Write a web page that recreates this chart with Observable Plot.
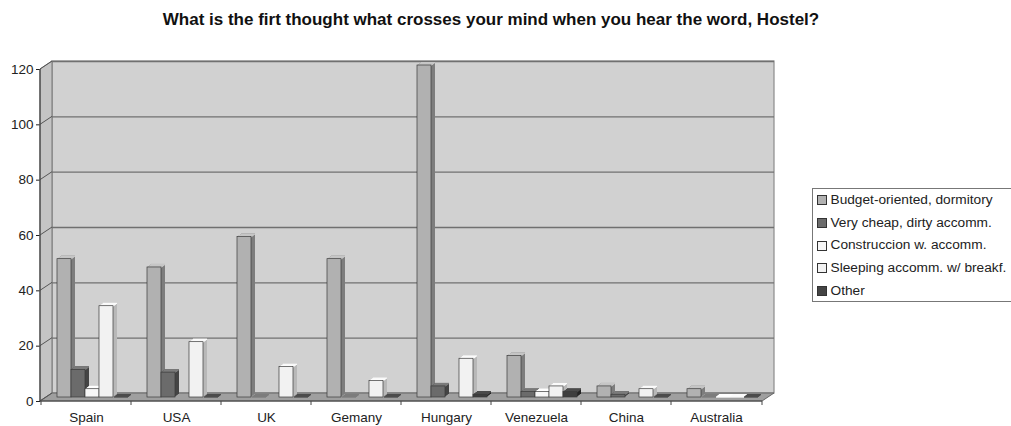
<!DOCTYPE html>
<html>
<head>
<meta charset="utf-8">
<script src="https://cdn.jsdelivr.net/npm/d3@7"></script>
<script src="https://cdn.jsdelivr.net/npm/@observablehq/plot@0.6"></script>
<style>
  html, body { margin: 0; padding: 0; background: #fff; }
  #wrap { position: relative; width: 1011px; height: 426px; overflow: hidden; font-family: "Liberation Sans", Arial, sans-serif; }
  #title { position: absolute; left: 0; top: 10px; width: 982px; text-align: center; font-weight: bold; font-size: 17px; line-height: 20px; color: #111; }
  .layer { position: absolute; left: 0; top: 0; }
  #legend { position: absolute; left: 812px; top: 188px; width: 210px; height: 114px; box-sizing: border-box; border: 1.5px solid #777; background: #fff; padding: 0 0 0 3.5px; font-size: 13.7px; color: #222; }
  #legend .row { height: 22.7px; line-height: 22.7px; white-space: nowrap; display: flex; align-items: center; }
  #legend .sw { width: 8px; height: 8px; border: 1px solid #333; margin-right: 4px; flex: none; }
</style>
</head>
<body>
<div id="wrap">
  <div id="title">What is the firt thought what crosses your mind when you hear the word, Hostel?</div>
  <div id="back" class="layer"></div>
  <div id="front" class="layer"></div>
  <div id="legend"></div>
</div>
<script>
// ---------- data ----------
const countries = ["Spain", "USA", "UK", "Gemany", "Hungary", "Venezuela", "China", "Australia"];
const series = ["Budget-oriented, dormitory", "Very cheap, dirty accomm.", "Construccion w. accomm.", "Sleeping accomm. w/ breakf.", "Other"];
const budget       = [50, 47, 58, 50, 120, 15, 4, 3];
const veryCheap    = [10,  9,  0,  0,   4,  2, 1, 0];
const construccion = [ 3, null, null, null, null, 2, null, 0];
const sleeping     = [33, 20, 11,  6,  14,  4, 3, 0];
const other        = [ 0,  0,  0,  0,   1,  2, 0, 0];
const yTicks = [0, 20, 40, 60, 80, 100, 120];

// ---------- styles ----------
const frontColor = ["#b1b1b1", "#6b6b6b", "#f7f7f7", "#f2f2f2", "#3e3e3e"];
const sideColor  = ["#7d7d7d", "#444444", "#bdbdbd", "#b8b8b8", "#242424"];
const topColor   = ["#c6c6c6", "#7c7c7c", "#ffffff", "#fbfbfb", "#4c4c4c"];
const legendColor = ["#b1b1b1", "#6b6b6b", "#f7f7f7", "#f2f2f2", "#444444"];

const valuesBySeries = [budget, veryCheap, construccion, sleeping, other];
const rows = [];
countries.forEach((c, i) => {
  series.forEach((s, j) => {
    const v = valuesBySeries[j][i];
    if (v != null) rows.push({country: c, series: s, value: v});
  });
});

const W = 1011, H = 426;
const margins = {marginTop: 69, marginBottom: 25, marginLeft: 40, marginRight: 249};
const wallDx = 12, wallDy = -8;       // back wall offset (depth)
const barDx = 6, barDy = -4;          // bars sit mid-depth
const depthSteps = [4, 3, 2, 1];
const depthK = 0.75;

// ---------- background: walls, floor, axes ----------
function walls(index, scales, values, dims) {
  const L = dims.marginLeft, R = dims.width - dims.marginRight;
  const y = scales.y;
  const y0 = y(0), yT = y(120);
  const g = d3.create("svg:g");
  g.append("rect")
    .attr("x", L + wallDx).attr("y", yT + wallDy)
    .attr("width", R - L).attr("height", y0 - yT)
    .attr("fill", "#d1d1d1").attr("stroke", "#8a8a8a").attr("stroke-width", 1.2);
  g.append("path")
    .attr("d", `M${L},${y0}L${L},${yT}L${L + wallDx},${yT + wallDy}L${L + wallDx},${y0 + wallDy}Z`)
    .attr("fill", "#c4c4c4").attr("stroke", "#777").attr("stroke-width", 1);
  g.append("path")
    .attr("d", `M${L},${y0}L${R},${y0}L${R + wallDx},${y0 + wallDy}L${L + wallDx},${y0 + wallDy}Z`)
    .attr("fill", "#9f9f9f").attr("stroke", "#666").attr("stroke-width", 1);
  for (const t of yTicks) {
    g.append("line")
      .attr("x1", L).attr("y1", y(t)).attr("x2", L + wallDx).attr("y2", y(t) + wallDy)
      .attr("stroke", "#555").attr("stroke-width", 1);
  }
  // category boundary ticks
  const xs = countries.map(c => scales.x(c)).concat([R]);
  for (const xv of xs) {
    g.append("line").attr("x1", xv).attr("x2", xv).attr("y1", y0).attr("y2", y0 + 4)
      .attr("stroke", "#444").attr("stroke-width", 1);
  }
  g.append("line").attr("x1", L).attr("x2", R).attr("y1", y0).attr("y2", y0).attr("stroke", "#444").attr("stroke-width", 1.2);
  g.append("line").attr("x1", L).attr("x2", L).attr("y1", y0).attr("y2", yT).attr("stroke", "#444").attr("stroke-width", 1.2);
  return g.node();
}

const backPlot = Plot.plot({
  width: W, height: H, ...margins,
  style: {background: "transparent", fontSize: "13.5px", fontFamily: "'Liberation Sans', Arial, sans-serif", color: "#222"},
  x: {type: "band", domain: countries, padding: 0, tickSize: 0, tickPadding: 11, label: null},
  y: {domain: [0, 120], ticks: yTicks, tickSize: 4, tickPadding: 3, label: null},
  marks: [
    walls,
    Plot.ruleY(yTicks.slice(1), {dx: wallDx, dy: wallDy, stroke: "#707070", strokeWidth: 1.4})
  ]
});
document.getElementById("back").appendChild(backPlot);

// ---------- foreground: 3D-looking bars ----------
const barMarks = [];
series.forEach((s, j) => {
  const filter = d => d.series === s;
  for (const k of depthSteps) {
    barMarks.push(Plot.barY(rows, {filter, fx: "country", x: "series", y: "value",
      fill: sideColor[j], dx: barDx + k, dy: barDy - depthK * k}));
  }
  for (const k of depthSteps) {
    barMarks.push(Plot.barY(rows, {filter, fx: "country", x: "series", y1: "value", y2: "value",
      insetBottom: -1.4, fill: topColor[j], dx: barDx + k, dy: barDy - depthK * k}));
  }
  barMarks.push(Plot.barY(rows, {filter, fx: "country", x: "series", y: "value",
    fill: frontColor[j], stroke: "#3a3a3a", strokeWidth: 0.7, dx: barDx, dy: barDy}));
});

const frontPlot = Plot.plot({
  width: W, height: H, ...margins,
  style: {background: "transparent"},
  fx: {domain: countries, padding: 0, axis: null},
  x: {domain: series, paddingInner: 0, paddingOuter: 0.68, axis: null},
  y: {domain: [0, 120], axis: null},
  marks: barMarks
});
document.getElementById("front").appendChild(frontPlot);

// ---------- legend ----------
const legend = document.getElementById("legend");
series.forEach((s, j) => {
  const row = document.createElement("div");
  row.className = "row";
  const sw = document.createElement("span");
  sw.className = "sw";
  sw.style.background = legendColor[j];
  const tx = document.createElement("span");
  tx.textContent = s;
  row.appendChild(sw);
  row.appendChild(tx);
  legend.appendChild(row);
});
</script>
</body>
</html>
